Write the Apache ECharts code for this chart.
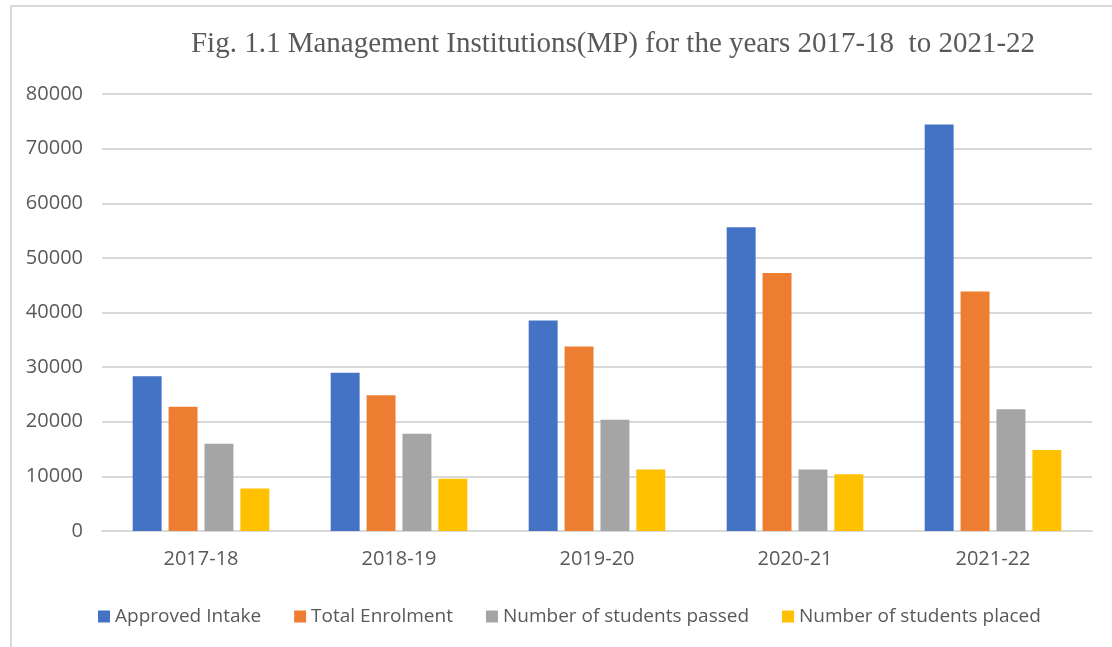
<!DOCTYPE html>
<html>
<head>
<meta charset="utf-8">
<script src="https://cdn.jsdelivr.net/npm/echarts@6/dist/echarts.min.js"></script>
<style>
html,body{margin:0;padding:0;background:#fff;}
#chart{width:1112px;height:647px;}
</style>
</head>
<body>
<div id="chart"></div>
<script>
const categories = ['2017-18', '2018-19', '2019-20', '2020-21', '2021-22'];
const approvedIntake = [28350, 28960, 38530, 55600, 74420];
const totalEnrolment = [22730, 24870, 33760, 47250, 43850];
const studentsPassed = [15970, 17800, 20370, 11280, 22270];
const studentsPlaced = [7800, 9580, 11280, 10370, 14840];
const yTicks = [0, 10000, 20000, 30000, 40000, 50000, 60000, 70000, 80000];
const seriesNames = ['Approved Intake', 'Total Enrolment', 'Number of students passed', 'Number of students placed'];
const colors = ['#4472C4', '#ED7D31', '#A5A5A5', '#FFC000'];

const chart = echarts.init(document.getElementById('chart'));
const dataSets = [approvedIntake, totalEnrolment, studentsPassed, studentsPlaced];
const labelFont = '"Open Sans", "Liberation Sans", sans-serif';
chart.setOption({
  animation: false,
  backgroundColor: '#fff',
  color: colors,
  graphic: [{
    type: 'polyline',
    shape: { points: [[11, 700], [11, 6], [1200, 6]] },
    style: { stroke: '#D9D9D9', lineWidth: 2, fill: null },
    silent: true
  }],
  title: {
    text: 'Fig. 1.1 Management Institutions(MP) for the years 2017-18  to 2021-22',
    left: 608, top: 25, textAlign: 'center',
    textStyle: { fontFamily: '"Liberation Serif", "Times New Roman", serif', fontWeight: 'normal', fontSize: 29, color: '#595959' }
  },
  legend: {
    left: 93, top: 602,
    itemWidth: 12, itemHeight: 12, itemGap: 33,
    icon: 'rect',
    textStyle: { fontFamily: labelFont, fontSize: 19, color: '#595959' },
    data: seriesNames
  },
  grid: { left: 102, right: 20, top: 94, bottom: 116, containLabel: false },
  xAxis: {
    type: 'category',
    data: categories,
    axisLine: { lineStyle: { color: '#D9D9D9', width: 2 } },
    axisTick: { show: false },
    axisLabel: { fontFamily: labelFont, fontSize: 20, color: '#595959', margin: 18 }
  },
  yAxis: {
    type: 'value',
    min: yTicks[0], max: yTicks[yTicks.length - 1], interval: 10000,
    axisLine: { show: false },
    axisTick: { show: false },
    splitLine: { lineStyle: { color: '#D9D9D9', width: 2 } },
    axisLabel: { fontFamily: labelFont, fontSize: 20, color: '#595959', margin: 19, formatter: v => String(v) }
  },
  series: dataSets.map((d, i) => ({
    name: seriesNames[i],
    type: 'bar',
    data: d,
    barGap: '24%',
    barCategoryGap: '31%',
    itemStyle: { color: colors[i] }
  }))
});
</script>
</body>
</html>
